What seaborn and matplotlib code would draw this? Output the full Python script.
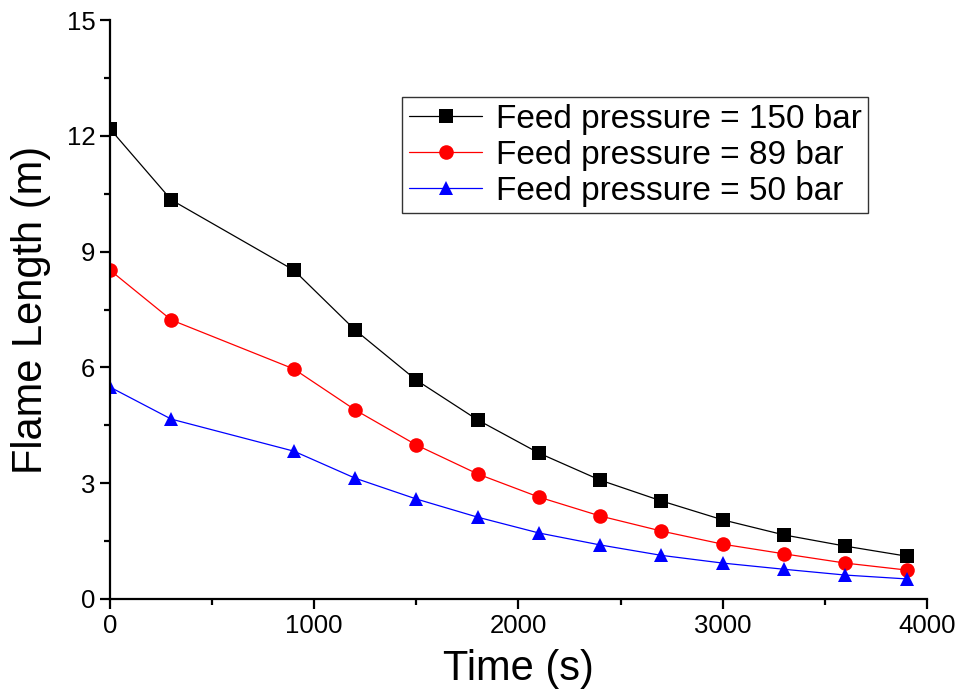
import pandas as pd
import matplotlib
matplotlib.use("Agg")
import matplotlib.pyplot as plt
import seaborn as sns
from matplotlib.ticker import MultipleLocator

# Flame length vs time for three feed pressures
time_s = [0, 300, 900, 1200, 1500, 1800, 2100, 2400, 2700, 3000, 3300, 3600, 3900]
len_150 = [12.18, 10.34, 8.52, 6.97, 5.67, 4.64, 3.78, 3.08, 2.54, 2.05, 1.66, 1.37, 1.11]
len_89 = [8.52, 7.23, 5.96, 4.90, 3.99, 3.24, 2.64, 2.15, 1.76, 1.42, 1.17, 0.93, 0.75]
len_50 = [5.49, 4.66, 3.83, 3.13, 2.59, 2.12, 1.71, 1.40, 1.13, 0.93, 0.77, 0.62, 0.52]
labels = ["Feed pressure = 150 bar", "Feed pressure = 89 bar", "Feed pressure = 50 bar"]

df = pd.concat([
    pd.DataFrame({"time": time_s, "length": vals, "series": lab})
    for vals, lab in zip([len_150, len_89, len_50], labels)
])

sns.set_style("ticks")
plt.rcParams["font.family"] = ["Liberation Sans", "DejaVu Sans"]
for k in ["text.color", "axes.labelcolor", "xtick.color", "ytick.color", "axes.edgecolor"]:
    plt.rcParams[k] = "black"

fig = plt.figure(figsize=(9.59, 7), dpi=100)
ax = fig.add_axes([0.1147, 0.1443, 0.8519, 0.8271])

sns.lineplot(data=df, x="time", y="length", hue="series", style="series",
             hue_order=labels, style_order=labels,
             palette=["black", "red", "blue"],
             markers={labels[0]: "s", labels[1]: "o", labels[2]: "^"},
             dashes=False, linewidth=0.9, markersize=10.5, markeredgewidth=0,
             ax=ax)

ax.set_xlim(0, 4000)
ax.set_ylim(0, 15)
ax.xaxis.set_major_locator(MultipleLocator(1000))
ax.xaxis.set_minor_locator(MultipleLocator(500))
ax.yaxis.set_major_locator(MultipleLocator(3))
ax.yaxis.set_minor_locator(MultipleLocator(1.5))

sns.despine(ax=ax)
for s in ["left", "bottom"]:
    ax.spines[s].set_linewidth(1.6)
ax.tick_params(which="major", length=7, width=1.6, labelsize=18.5, direction="out")
ax.tick_params(which="minor", length=4, width=1.6, direction="out")

ax.set_xlabel("Time (s)", fontsize=30, labelpad=8)
ax.set_ylabel("Flame Length (m)", fontsize=30, labelpad=11)

leg = ax.legend(loc="upper right", bbox_to_anchor=(0.928, 0.867), borderaxespad=0,
                fontsize=24, frameon=True, fancybox=False, edgecolor="black",
                labelspacing=0.15, handlelength=2.2, handletextpad=0.4,
                borderpad=0.2, title=None)
leg.get_frame().set_linewidth(1.0)

fig.savefig("out.png", dpi=100)
